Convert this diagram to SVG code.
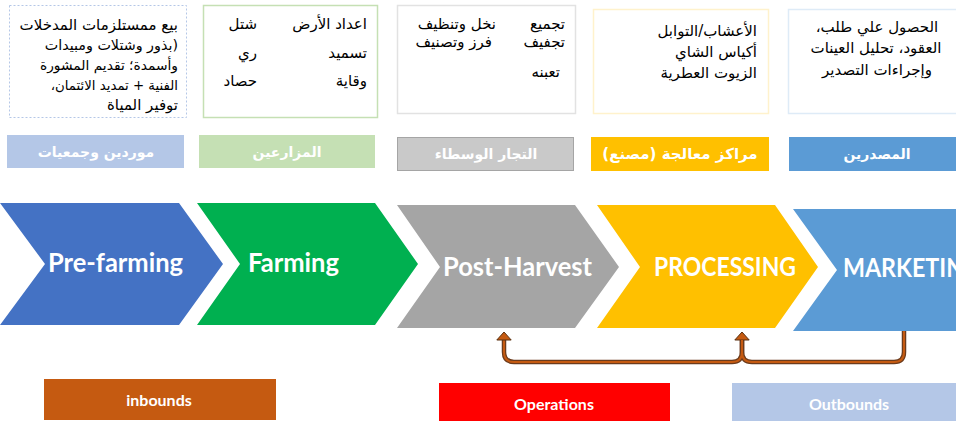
<svg xmlns="http://www.w3.org/2000/svg" width="956" height="421" viewBox="0 0 956 421">
<defs>
<style>
.ar{font-family:"DejaVu Sans",sans-serif;font-size:15px;fill:#000;direction:rtl;text-anchor:start}
.arc{font-family:"DejaVu Sans",sans-serif;font-size:15px;fill:#000;direction:rtl;text-anchor:middle}
.lbl{font-family:"DejaVu Sans",sans-serif;font-weight:bold;font-size:14px;fill:#fff;direction:rtl;text-anchor:middle}
.chev{font-family:Lato,"Open Sans",sans-serif;font-weight:bold;font-size:26px;fill:#fff}
.btm{font-family:Lato,"Open Sans",sans-serif;font-weight:bold;font-size:16px;fill:#fff;text-anchor:middle}
.outer{fill:none;stroke:#6b3b1c;stroke-width:4.5}
.inner{fill:none;stroke:#c55a11;stroke-width:2}
</style>
<marker id="ah" markerUnits="userSpaceOnUse" markerWidth="9" markerHeight="16" viewBox="0 0 9 16" refX="0.5" refY="8" orient="auto">
<path d="M0.5,0.8 L8.5,8 L0.5,15.2 z" fill="#c55a11" stroke="#5a3010" stroke-width="1"/>
</marker>
</defs>
<rect width="956" height="421" fill="#fff"/>

<g id="box-prefarming">
<rect x="9.5" y="5.5" width="177" height="112" fill="#fff" stroke="#b4c7e7" stroke-width="1" stroke-dasharray="2,2"/>
<text class="ar" x="178" y="30">بيع ممستلزمات المدخلات</text>
<text class="ar" x="178" y="50" style="font-size:14.3px">(بذور وشتلات ومبيدات</text>
<text class="ar" x="178" y="70" style="font-size:13.8px">وأسمدة؛ تقديم المشورة</text>
<text class="ar" x="178" y="90" style="font-size:13.3px">الفنية + تمديد الائتمان،</text>
<text class="ar" x="178" y="110">توفير المياة</text>
</g>

<g id="box-farming">
<rect x="203.5" y="5.5" width="174" height="112" fill="#fff" stroke="#c5e0b4" stroke-width="1.5"/>
<text class="ar" x="367" y="29">اعداد الأرض</text>
<text class="ar" x="367" y="58">تسميد</text>
<text class="ar" x="367" y="86">وقاية</text>
<text class="ar" x="257" y="29">شتل</text>
<text class="ar" x="257" y="58">ري</text>
<text class="ar" x="257" y="86">حصاد</text>
</g>

<g id="box-postharvest">
<rect x="397.5" y="5.5" width="178" height="108" fill="#fff" stroke="#e2e2e2" stroke-width="1.5"/>
<text class="ar" x="565" y="29">تجميع</text>
<text class="ar" x="565" y="47">تجفيف</text>
<text class="ar" x="560" y="77">تعبنه</text>
<text class="ar" x="496" y="29">نخل وتنظيف</text>
<text class="ar" x="492" y="47">فرز وتصنيف</text>
</g>

<g id="box-processing">
<rect x="593.5" y="9.5" width="175" height="104" fill="#fff" stroke="#fff2cc" stroke-width="1.5"/>
<text class="ar" x="757" y="36">الأعشاب/التوابل</text>
<text class="ar" x="757" y="57">أكياس الشاي</text>
<text class="ar" x="757" y="78">الزيوت العطرية</text>
</g>

<g id="box-marketing">
<rect x="788.5" y="9.5" width="170" height="104" fill="#fff" stroke="#deebf7" stroke-width="1.5"/>
<text class="arc" x="877" y="32">الحصول علي طلب،</text>
<text class="arc" x="876" y="53">العقود، تحليل العينات</text>
<text class="arc" x="877" y="75">وإجراءات التصدير</text>
</g>

<g id="role-suppliers">
<rect x="7" y="135" width="177" height="33" fill="#b4c7e7"/>
<text class="lbl" x="96" y="157">موردين وجمعيات</text>
</g>
<g id="role-farmers">
<rect x="199" y="135" width="176" height="33" fill="#c5e0b4"/>
<text class="lbl" x="287" y="157">المزارعين</text>
</g>
<g id="role-traders">
<rect x="397.5" y="137.5" width="176" height="33" fill="#c9c9c9" stroke="#a5a5a5" stroke-width="1"/>
<text class="lbl" x="486" y="159">التجار الوسطاء</text>
</g>
<g id="role-centers">
<rect x="591" y="137" width="178" height="34" fill="#ffc000"/>
<text class="lbl" x="680" y="159" style="font-size:15px">مراكز معالجة (مصنع)</text>
</g>
<g id="role-exporters">
<rect x="789" y="137" width="167" height="34" fill="#5b9bd5"/>
<text class="lbl" x="877" y="159">المصدرين</text>
</g>

<g id="chevron-prefarming">
<polygon points="0,203 179,203 223,264 179,325 0,325 45,264" fill="#4472c4"/>
<text class="chev" x="48" y="272" textLength="135" lengthAdjust="spacingAndGlyphs">Pre-farming</text>
</g>
<g id="chevron-farming">
<polygon points="197,203 375,203 418,264 375,325 197,325 240,264" fill="#00b050"/>
<text class="chev" x="248" y="272" textLength="91" lengthAdjust="spacingAndGlyphs">Farming</text>
</g>
<g id="chevron-postharvest">
<polygon points="397,205 575,205 619,267 575,328 397,328 440,267" fill="#a5a5a5"/>
<text class="chev" x="443" y="276" textLength="149" lengthAdjust="spacingAndGlyphs">Post-Harvest</text>
</g>
<g id="chevron-processing">
<polygon points="597,205 775,205 818,267 775,328 597,328 640,267" fill="#ffc000"/>
<text class="chev" x="654" y="276" textLength="142" lengthAdjust="spacingAndGlyphs">PROCESSING</text>
</g>
<g id="chevron-marketing">
<polygon points="793,209 960,209 960,331 793,331 837,270" fill="#5b9bd5"/>
<text class="chev" x="843" y="277" textLength="138" lengthAdjust="spacingAndGlyphs">MARKETING</text>
</g>

<g id="connectors">
<path class="outer" d="M904,331 V352 Q904,362 894,362 H752 Q742,362 742,352 V340"/>
<path class="outer" d="M742,340 V352 Q742,362 732,362 H514 Q504,362 504,352 V340"/>
<path class="inner" d="M904,331 V352 Q904,362 894,362 H752 Q742,362 742,352 V340" marker-end="url(#ah)"/>
<path class="inner" d="M742,340 V352 Q742,362 732,362 H514 Q504,362 504,352 V340" marker-end="url(#ah)"/>
</g>

<g id="inbounds">
<rect x="44" y="379" width="232" height="41" fill="#c55a11"/>
<text class="btm" x="159" y="406">inbounds</text>
</g>
<g id="operations">
<rect x="439" y="383" width="231" height="38" fill="#ff0000"/>
<text class="btm" x="554" y="410">Operations</text>
</g>
<g id="outbounds">
<rect x="732" y="383" width="224" height="38" fill="#b4c7e7"/>
<text class="btm" x="849" y="410">Outbounds</text>
</g>
</svg>
